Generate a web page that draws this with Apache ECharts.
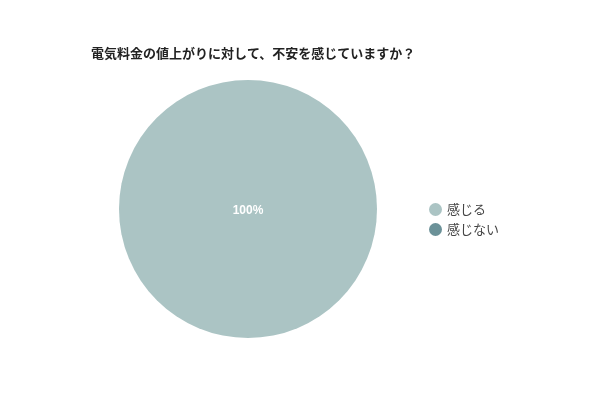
<!DOCTYPE html>
<html><head><meta charset="utf-8">
<script src="https://cdn.jsdelivr.net/npm/echarts@6/dist/echarts.min.js"></script>
<style>html,body{margin:0;padding:0;background:#fff}#c{width:600px;height:400px}</style>
</head><body><div id="c"></div>
<script>
const title = '電気料金の値上がりに対して、不安を感じていますか？';
const categories = ['感じる', '感じない'];
const values = [100, 0];
const colors = ['#abc4c4', '#6b9198'];

const chart = echarts.init(document.getElementById('c'), null, {renderer: 'canvas'});
chart.setOption({
  animation: false,
  title: {
    text: title, left: 86, top: 42,
    textStyle: {fontSize: 13, fontWeight: 'bold', color: '#222', fontFamily: 'Noto Sans CJK JP'}
  },
  legend: {
    orient: 'vertical', left: 424, top: 198, icon: 'circle',
    itemWidth: 13, itemHeight: 13, itemGap: 7,
    textStyle: {fontSize: 13, color: '#444', fontFamily: 'Noto Sans CJK JP'},
    data: categories
  },
  color: colors,
  series: [{
    type: 'pie', center: [248, 209], radius: [0, 129],
    startAngle: 90,
    label: {
      position: 'center', color: '#fff', fontWeight: 'bold', fontSize: 12,
      fontFamily: 'Arial, Liberation Sans', offset: [0, 2],
      formatter: p => p.value > 0 ? Math.round(p.percent) + '%' : ''
    },
    labelLine: {show: false},
    itemStyle: {borderWidth: 0},
    emphasis: {disabled: true},
    data: categories.map((c, i) => ({name: c, value: values[i]}))
  }]
});
</script></body></html>
